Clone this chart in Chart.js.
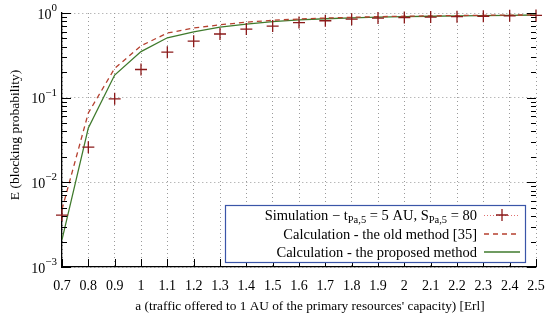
<!DOCTYPE html>
<html><head><meta charset="utf-8">
<script src="https://cdn.jsdelivr.net/npm/chart.js@4/dist/chart.umd.min.js"></script>
<style>html,body{margin:0;padding:0;background:#fff}#c{display:block}</style>
</head><body>
<div style="width:550px;height:328px"><canvas id="c" width="550" height="328"></canvas></div>
<script>
const xValues = [0.7,0.8,0.9,1.0,1.1,1.2,1.3,1.4,1.5,1.6,1.7,1.8,1.9,2.0,2.1,2.2,2.3,2.4,2.5];
const simValues = [0.0041,0.026,0.097,0.215,0.345,0.465,0.565,0.645,0.70,0.77,0.81,0.845,0.87,0.885,0.895,0.905,0.915,0.925,0.935];
const oldValues = [0.0048,0.066,0.222,0.41,0.58,0.665,0.725,0.78,0.82,0.85,0.872,0.89,0.905,0.915,0.925,0.932,0.94,0.945,0.95];
const newValues = [0.0021,0.044,0.185,0.35,0.51,0.60,0.68,0.74,0.79,0.83,0.855,0.875,0.892,0.905,0.915,0.925,0.933,0.94,0.947];
const xTickLabels = ['0.7','0.8','0.9','1','1.1','1.2','1.3','1.4','1.5','1.6','1.7','1.8','1.9','2','2.1','2.2','2.3','2.4','2.5'];
const yDecades = [0.001,0.01,0.1,1];
const yDecadeExp = ['\u22123','\u22122','\u22121','0'];
const xTitle = "a (traffic offered to 1 AU of the primary resources' capacity) [Erl]";
const yTitle = 'E (blocking probability)';

const FONT = '"Liberation Serif","Times New Roman",serif';
const simColor = '#8b1a1a', oldColor = '#b5402f', newColor = '#3f7a2c';

const pts = arr => xValues.map((x,i)=>({x, y: arr[i]}));

const deco = {
  id:'deco',
  afterDraw(chart){
    const ctx = chart.ctx, xs = chart.scales.x, ys = chart.scales.y, ca = chart.chartArea;
    ctx.save();
    ctx.strokeStyle = '#000'; ctx.lineWidth = 1;
    xValues.forEach(v=>{
      const px = Math.round(xs.getPixelForValue(v))+0.5;
      ctx.beginPath(); ctx.moveTo(px, ca.bottom); ctx.lineTo(px, ca.bottom-8); ctx.stroke();
    });
    for (let e=-3; e<=0; e++){
      for (let m=1; m<=9; m++){
        const v = m*Math.pow(10,e);
        if (v>1.0001) break;
        const py = Math.round(ys.getPixelForValue(v))+0.5;
        const len = m===1 ? 9 : 5;
        ctx.beginPath(); ctx.moveTo(ca.left, py); ctx.lineTo(ca.left+len, py); ctx.stroke();
        ctx.beginPath(); ctx.moveTo(ca.right, py); ctx.lineTo(ca.right-len, py); ctx.stroke();
      }
    }
    ctx.fillStyle = '#000';
    ctx.font = '14px '+FONT; ctx.textAlign='center'; ctx.textBaseline='middle';
    xValues.forEach((v,i)=>{ ctx.fillText(xTickLabels[i], xs.getPixelForValue(v), 286); });
    yDecades.forEach((v,i)=>{
      const py = ys.getPixelForValue(v);
      ctx.font = '11px '+FONT; ctx.textAlign='right'; ctx.textBaseline='middle';
      const ew = ctx.measureText(yDecadeExp[i]).width;
      ctx.fillText(yDecadeExp[i], 57, py-5);
      ctx.font = '14px '+FONT;
      ctx.fillText('10', 57-ew, py+2);
    });
    ctx.font = '13.3px '+FONT; ctx.textAlign='center'; ctx.textBaseline='middle';
    ctx.fillText(xTitle, 310, 307);
    ctx.font = '13.5px '+FONT;
    ctx.save(); ctx.translate(15, 135); ctx.rotate(-Math.PI/2); ctx.fillText(yTitle, 0, 0); ctx.restore();

    const bx=225, by=205, bw=300, bh=57;
    ctx.fillStyle='#fff'; ctx.fillRect(bx,by,bw,bh);
    ctx.strokeStyle='#3a55a8'; ctx.lineWidth=1.2; ctx.strokeRect(bx+0.5,by+0.5,bw,bh);
    const tx = 477, sx0 = 484, sx1 = 520;
    const rows = [215, 234, 252];
    ctx.fillStyle='#000'; ctx.textBaseline='alphabetic'; ctx.textAlign='left';
    const parts = [['Simulation \u2212 t',14.5,0],['Pa,5',10.5,3],[' = 5 AU, S',14.5,0],['Pa,5',10.5,3],[' = 80',14.5,0]];
    let tot=0; parts.forEach(p=>{ctx.font=p[1]+'px '+FONT; tot+=ctx.measureText(p[0]).width;});
    let cx = tx - tot;
    parts.forEach(p=>{ctx.font=p[1]+'px '+FONT; ctx.fillText(p[0], cx, rows[0]+5+p[2]); cx+=ctx.measureText(p[0]).width;});
    ctx.font='14.5px '+FONT; ctx.textAlign='right';
    ctx.fillText('Calculation - the old method [35]', tx, rows[1]+5);
    ctx.fillText('Calculation - the proposed method', tx, rows[2]+5);
    ctx.strokeStyle='#e07070'; ctx.lineWidth=1; ctx.setLineDash([1,2]);
    ctx.beginPath(); ctx.moveTo(sx0, rows[0]+0.5); ctx.lineTo(sx1, rows[0]+0.5); ctx.stroke();
    ctx.setLineDash([]); ctx.strokeStyle=simColor; ctx.lineWidth=1.3;
    const mx=(sx0+sx1)/2;
    ctx.beginPath(); ctx.moveTo(mx-6, rows[0]); ctx.lineTo(mx+6, rows[0]); ctx.moveTo(mx, rows[0]-6); ctx.lineTo(mx, rows[0]+6); ctx.stroke();
    ctx.strokeStyle=oldColor; ctx.setLineDash([5,4]);
    ctx.beginPath(); ctx.moveTo(sx0, rows[1]); ctx.lineTo(sx1, rows[1]); ctx.stroke();
    ctx.setLineDash([]); ctx.strokeStyle=newColor;
    ctx.beginPath(); ctx.moveTo(sx0, rows[2]); ctx.lineTo(sx1, rows[2]); ctx.stroke();
    ctx.restore();
  }
};

new Chart(document.getElementById('c'), {
  type:'scatter',
  data:{datasets:[
    {label:'old', data:pts(oldValues), showLine:true, borderColor:oldColor, borderWidth:1.3, borderDash:[5,4], pointRadius:0, fill:false, order:2},
    {label:'new', data:pts(newValues), showLine:true, borderColor:newColor, borderWidth:1.3, pointRadius:0, fill:false, order:3},
    {label:'sim', data:pts(simValues), showLine:false, pointStyle:'cross', pointRadius:6, pointBorderWidth:1.3, borderColor:simColor, backgroundColor:simColor, clip:false, order:1}
  ]},
  options:{
    responsive:false, animation:false, devicePixelRatio:1,
    layout:{padding:{top:13,right:14,left:0,bottom:0}},
    plugins:{legend:{display:false}, tooltip:{enabled:false}},
    scales:{
      x:{type:'linear', min:0.7, max:2.5,
        afterBuildTicks: s=>{ s.ticks = xValues.map(v=>({value:v})); },
        afterFit: s=>{ s.height = 61; },
        ticks:{display:false},
        grid:{color:'#9a9a9a', lineWidth:1, drawTicks:false},
        border:{display:true, color:'#000', width:1.3, dash:[1,3]}
      },
      y:{type:'logarithmic', min:0.001, max:1,
        afterBuildTicks: s=>{ s.ticks = yDecades.map(v=>({value:v})); },
        afterFit: s=>{ s.width = 62; },
        ticks:{display:false},
        grid:{color:'#9a9a9a', lineWidth:1, drawTicks:false},
        border:{display:true, color:'#000', width:1.3, dash:[1,3]}
      }
    }
  },
  plugins:[deco]
});
</script>
</body></html>
